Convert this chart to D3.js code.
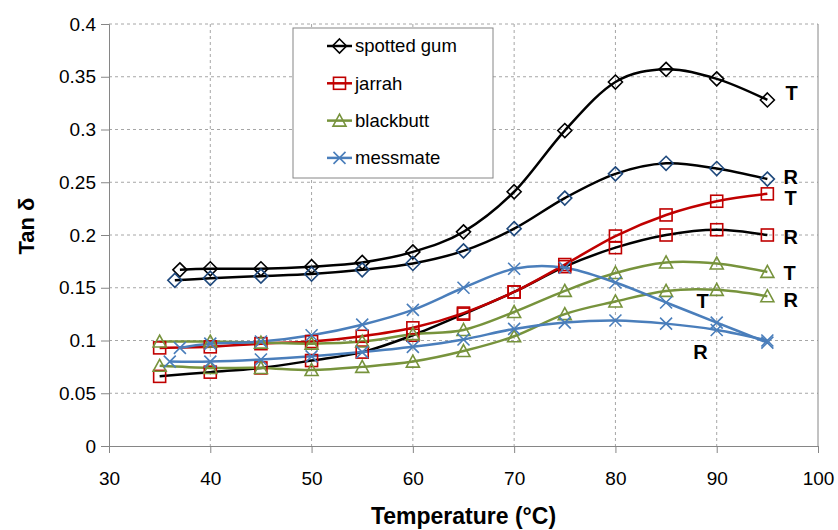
<!DOCTYPE html>
<html>
<head>
<meta charset="utf-8">
<script src="https://cdn.jsdelivr.net/npm/d3@7"></script>
<style>
  body { margin: 0; background: #fff; }
  text { font-family: "Liberation Sans", Arial, sans-serif; }
</style>
</head>
<body>
<div id="container"></div>
<script>
/* DATA */
const temps = [35, 40, 45, 50, 55, 60, 65, 70, 75, 80, 85, 90, 95];
const tempsSgT = [37, 40, 45, 50, 55, 60, 65, 70, 75, 80, 85, 90, 95];
const tempsSgR = [36.5, 40, 45, 50, 55, 60, 65, 70, 75, 80, 85, 90, 95];
const tempsMmT = [37, 40, 45, 50, 55, 60, 65, 70, 75, 80, 85, 90, 95];
const tempsMmR = [36, 40, 45, 50, 55, 60, 65, 70, 75, 80, 85, 90, 95];

const spottedGumT = [0.167, 0.168, 0.168, 0.170, 0.174, 0.184, 0.203, 0.241, 0.299, 0.345, 0.357, 0.348, 0.328];
const spottedGumR = [0.157, 0.159, 0.161, 0.163, 0.167, 0.173, 0.185, 0.206, 0.235, 0.258, 0.268, 0.263, 0.253];
const jarrahT = [0.093, 0.094, 0.097, 0.099, 0.104, 0.112, 0.126, 0.146, 0.172, 0.199, 0.219, 0.232, 0.239];
const jarrahR = [0.066, 0.070, 0.074, 0.081, 0.089, 0.105, 0.125, 0.146, 0.170, 0.188, 0.200, 0.205, 0.200];
const blackbuttT = [0.099, 0.099, 0.098, 0.097, 0.099, 0.106, 0.110, 0.127, 0.147, 0.164, 0.174, 0.173, 0.165];
const blackbuttR = [0.076, 0.074, 0.074, 0.072, 0.075, 0.080, 0.090, 0.104, 0.125, 0.137, 0.147, 0.148, 0.142];
const messmateT = [0.093, 0.097, 0.099, 0.105, 0.115, 0.129, 0.150, 0.168, 0.169, 0.155, 0.136, 0.117, 0.098];
const messmateR = [0.080, 0.080, 0.082, 0.085, 0.089, 0.094, 0.101, 0.111, 0.117, 0.119, 0.116, 0.110, 0.100];

const legendNames = ["spotted gum", "jarrah", "blackbutt", "messmate"];

const xTicks = [30, 40, 50, 60, 70, 80, 90, 100];
const yTicks = [0, 0.05, 0.1, 0.15, 0.2, 0.25, 0.3, 0.35, 0.4];
const yTickLabels = ["0", "0.05", "0.1", "0.15", "0.2", "0.25", "0.3", "0.35", "0.4"];

/* T / R annotations: [text, temperature, tan delta] */
const notes = [
  ["T", 97.4, 0.335], ["R", 97.3, 0.255], ["T", 97.3, 0.235], ["R", 97.3, 0.198],
  ["T", 97.2, 0.164], ["R", 97.3, 0.139], ["T", 88.6, 0.138], ["R", 88.4, 0.089]
];

/* STYLES */
const black = "#000000", navy = "#1f497d", red = "#c00000", green = "#77933c", blue = "#4a7ebb";

const series = [
  {t: tempsSgT, v: spottedGumT, line: black, mark: black, shape: "diamond"},
  {t: tempsSgR, v: spottedGumR, line: black, mark: navy, shape: "diamond"},
  {t: temps, v: jarrahR, line: black, mark: red, shape: "square"},
  {t: temps, v: jarrahT, line: red, mark: red, shape: "square"},
  {t: temps, v: blackbuttT, line: green, mark: green, shape: "triangle"},
  {t: temps, v: blackbuttR, line: green, mark: green, shape: "triangle"},
  {t: tempsMmT, v: messmateT, line: blue, mark: blue, shape: "cross"},
  {t: tempsMmR, v: messmateR, line: blue, mark: blue, shape: "cross"}
];
const legendStyle = [
  {line: black, mark: black, shape: "diamond"},
  {line: red, mark: red, shape: "square"},
  {line: green, mark: green, shape: "triangle"},
  {line: blue, mark: blue, shape: "cross"}
];

const margin = {top: 24, right: 20, bottom: 84, left: 109},
    width = 838 - margin.left - margin.right,
    height = 530 - margin.top - margin.bottom;

const x = d3.scaleLinear().domain([30, 100]).range([0, width]);
const y = d3.scaleLinear().domain([0, 0.4]).range([height, 0]);

const svg = d3.select("#container").append("svg")
    .attr("width", 838)
    .attr("height", 530)
  .append("g")
    .attr("transform", "translate(" + margin.left + "," + margin.top + ")");

/* GRIDLINES */
svg.append("g").selectAll("line").data(yTicks.slice(1)).join("line")
    .attr("x1", 0).attr("x2", width)
    .attr("y1", d => y(d)).attr("y2", d => y(d))
    .attr("stroke", "#a6a6a6").attr("stroke-dasharray", "3,3");
svg.append("g").selectAll("line").data(xTicks.slice(1, -1)).join("line")
    .attr("x1", d => x(d)).attr("x2", d => x(d))
    .attr("y1", 0).attr("y2", height)
    .attr("stroke", "#a6a6a6").attr("stroke-dasharray", "3,3");
svg.append("line")
    .attr("x1", x(100)).attr("x2", x(100)).attr("y1", 0).attr("y2", height)
    .attr("stroke", "#868686");

/* AXES */
const yAxis = svg.append("g")
    .call(d3.axisLeft(y).tickValues(yTicks).tickFormat((d, i) => yTickLabels[i]).tickSize(8).tickPadding(24));
const xAxis = svg.append("g")
    .attr("transform", "translate(0," + height + ")")
    .call(d3.axisBottom(x).tickValues(xTicks).tickSize(7).tickPadding(19));
[xAxis, yAxis].forEach(a => {
  a.select(".domain").attr("stroke", "#868686");
  a.selectAll(".tick line").attr("stroke", "#868686");
  a.selectAll("text").attr("font-size", 19).attr("fill", "#000")
    .attr("font-family", "'Liberation Sans', Arial, sans-serif");
});
yAxis.selectAll("text").attr("dx", 19);

/* LINES */
const line = d3.line()
    .x(d => x(d[0]))
    .y(d => y(d[1]))
    .curve(d3.curveCardinal.tension(0));

function marker(g, shape, color) {
  if (shape === "diamond") {
    g.append("path").attr("d", "M0,-7L7,0L0,7L-7,0Z")
      .attr("fill", "none").attr("stroke", color).attr("stroke-width", 1.6);
  } else if (shape === "square") {
    g.append("rect").attr("x", -6).attr("y", -6).attr("width", 12).attr("height", 12)
      .attr("fill", "none").attr("stroke", color).attr("stroke-width", 1.6);
  } else if (shape === "triangle") {
    g.append("path").attr("d", "M0,-6.5L6.5,5.5L-6.5,5.5Z")
      .attr("fill", "none").attr("stroke", color).attr("stroke-width", 1.6);
  } else {
    g.append("path").attr("d", "M-6,-6L6,6M-6,6L6,-6")
      .attr("fill", "none").attr("stroke", color).attr("stroke-width", 1.6);
  }
}

series.forEach(s => {
  const pts = s.t.map((t, i) => [t, s.v[i]]);
  svg.append("path")
      .datum(pts)
      .attr("fill", "none")
      .attr("stroke", s.line)
      .attr("stroke-width", 2.5)
      .attr("d", line);
});
series.forEach(s => {
  s.t.forEach((t, i) => {
    const g = svg.append("g").attr("transform", "translate(" + x(t) + "," + y(s.v[i]) + ")");
    marker(g, s.shape, s.mark);
  });
});

/* T / R LABELS */
svg.append("g").selectAll("text").data(notes).join("text")
    .attr("x", d => x(d[1]))
    .attr("y", d => y(d[2]))
    .attr("dy", "0.36em")
    .attr("text-anchor", "middle")
    .attr("font-size", 20)
    .attr("font-weight", "bold")
    .text(d => d[0]);

/* LEGEND */
const legend = svg.append("g").attr("transform", "translate(" + (293 - margin.left) + "," + (28 - margin.top) + ")");
legend.append("rect")
    .attr("width", 200).attr("height", 150)
    .attr("fill", "#fff").attr("stroke", "#868686");
legendNames.forEach((name, i) => {
  const ly = 18 + i * 37.3;
  const st = legendStyle[i];
  legend.append("line")
      .attr("x1", 34).attr("x2", 59).attr("y1", ly).attr("y2", ly)
      .attr("stroke", st.line).attr("stroke-width", 2.5);
  marker(legend.append("g").attr("transform", "translate(46.5," + ly + ")"), st.shape, st.mark);
  legend.append("text")
      .attr("x", 62).attr("y", ly).attr("dy", "0.35em")
      .attr("font-size", 18.5)
      .text(name);
});

/* AXIS TITLES */
svg.append("text")
    .attr("x", width / 2)
    .attr("y", height + 78)
    .attr("text-anchor", "middle")
    .attr("font-size", 23)
    .attr("font-weight", "bold")
    .text("Temperature (°C)");

svg.append("text")
    .attr("transform", "rotate(-90)")
    .attr("x", 24 - 226)
    .attr("y", 26 - margin.left)
    .attr("dy", "0.35em")
    .attr("text-anchor", "middle")
    .attr("font-size", 22)
    .attr("font-weight", "bold")
    .text("Tan δ");
</script>
</body>
</html>
